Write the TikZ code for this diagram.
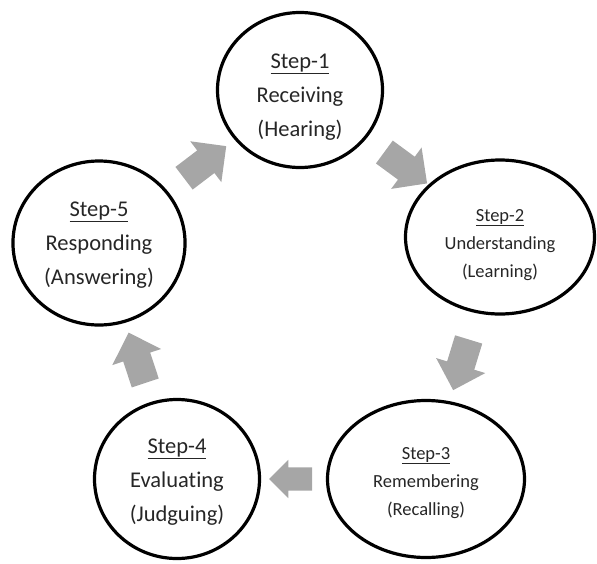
\documentclass[tikz,border=0pt]{standalone}
\usepackage{fontspec}
\setmainfont{Carlito}[Ligatures=NoCommon]
\usetikzlibrary{shapes.geometric, shapes.arrows, positioning}
\definecolor{arrowgray}{HTML}{A6A6A6}
\definecolor{textgray}{HTML}{262626}

\begin{document}
\begin{tikzpicture}[x=1pt, y=-1pt, node distance=150pt, on grid,
    stepnode/.style={ellipse, draw, line width=3.2pt, inner sep=0pt, text=textgray,
      font=\fontsize{22.5}{34}\selectfont},
    smallstep/.style={stepnode, font=\fontsize{18.5}{28}\selectfont},
    blockarrow/.style={single arrow, fill=arrowgray, inner xsep=0pt, inner ysep=14pt,
      minimum height=53pt, single arrow head extend=11.5pt, sloped, allow upside down},
    smallarrow/.style={blockarrow, inner ysep=11.5pt, minimum height=43pt,
      single arrow head extend=7.5pt}]
  \useasboundingbox (0,0) rectangle (597,563);
  \node[stepnode, minimum width=165pt, minimum height=155pt] (1) at (300,90) {
    \raisebox{-11pt}[0pt][0pt]{\begin{tabular}{c}
      \underline{Step-1} \\ Receiving \\ (Hearing)
    \end{tabular}}};
  \node[smallstep, minimum width=189pt, minimum height=154pt] [below right=147pt and 200pt of 1] (2) {
    \raisebox{-11pt}[0pt][0pt]{\begin{tabular}{c}
      \underline{Step-2} \\ Understanding \\ (Learning)
    \end{tabular}}};
  \node[smallstep, minimum width=197pt, minimum height=157pt] [below left=242pt and 74pt of 2] (3) {
    \raisebox{-7pt}[0pt][0pt]{\begin{tabular}{c}
      \underline{Step-3} \\ Remembering \\ (Recalling)
    \end{tabular}}};
  \node[stepnode, minimum width=165pt, minimum height=159pt] [left=249pt of 3] (4) {
    \raisebox{-7pt}[0pt][0pt]{\begin{tabular}{c}
      \underline{Step-4} \\ Evaluating \\ (Judguing)
    \end{tabular}}};
  \node[stepnode, minimum width=163pt, minimum height=164pt] [above left=236pt and 78pt of 4] (5) {
    \raisebox{-6pt}[0pt][0pt]{\begin{tabular}{c}
      \underline{Step-5} \\ Responding \\ (Answering)
    \end{tabular}}};
  \path
    (1.center) -- node[blockarrow] (12) {} (2.center)
               -- node[blockarrow] (23) {} (3.center)
               -- node[smallarrow, pos=0.52] (34) {} (4.center)
               -- node[blockarrow, pos=0.485] (45) {} (5.center)
               -- node[blockarrow] (51) {} (1.center);
\end{tikzpicture}
\end{document}
